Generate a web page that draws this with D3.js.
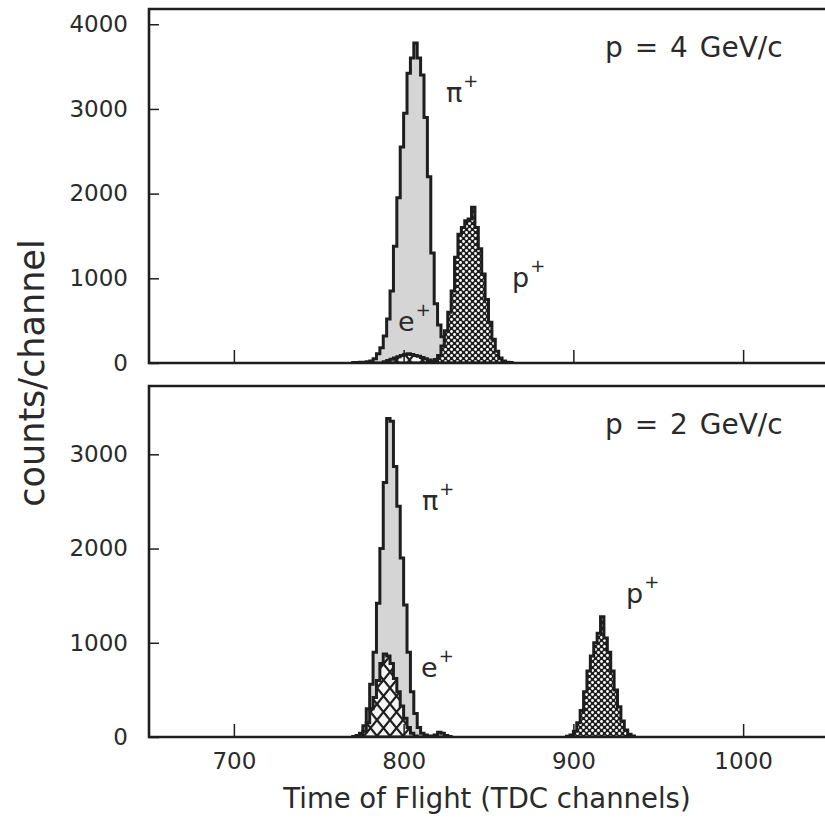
<!DOCTYPE html>
<html>
<head>
<meta charset="utf-8">
<script src="https://cdn.jsdelivr.net/npm/d3@7"></script>
<style>
  body { margin: 0; background: #fff; }
  text { font-family: "DejaVu Sans", sans-serif; fill: #2a2a2a; }
</style>
</head>
<body>
<div id="chart"></div>
<script>
// histogram bins are 2 TDC channels wide
const binWidth = 2

// p = 4 GeV/c
const pion4Start = 770
const pion4Counts = [5, 5, 8, 10, 14, 25, 50, 110, 180, 320, 520, 850, 1380, 1950, 2550, 2950, 3420, 3600, 3780, 3600,
    3400, 2900, 2200, 1300, 700, 450, 310, 240, 190, 150, 110, 90, 60, 40, 30, 20, 15, 10, 6, 4]
const proton4Start = 814
const proton4Counts = [10, 20, 40, 90, 200, 380, 600, 850, 1250, 1520, 1600, 1680, 1700, 1840, 1600, 1350, 1050, 750, 480, 280,
    140, 60, 25, 10, 5]
const positron4Start = 788
const positron4Counts = [15, 30, 45, 60, 75, 90, 100, 110, 100, 90, 80, 65, 50, 35, 20, 10]

// p = 2 GeV/c
const pion2Start = 770
const pion2Counts = [5, 15, 40, 120, 300, 560, 900, 1420, 2000, 2700, 3380, 3350, 2870, 2450, 1900, 1400, 900, 480, 250, 100,
    40, 20, 10, 10, 20, 50, 40, 15, 5]
const proton2Start = 896
const proton2Counts = [8, 20, 60, 150, 280, 480, 700, 860, 1000, 1100, 1275, 1050, 900, 700, 500, 320, 170, 75, 30, 10]
const positron2Start = 774
const positron2Counts = [20, 60, 150, 300, 420, 600, 780, 880, 860, 780, 620, 480, 330, 200, 100, 40, 10]

const xTicks = [700, 800, 900, 1000]
const yTicksTop = [0, 1000, 2000, 3000, 4000]
const yTicksBottom = [0, 1000, 2000, 3000]

const width = 825, height = 821
const ink = '#1e1e1e'

const svg = d3.select('#chart').append('svg')
    .attr('width', width)
    .attr('height', height)

// fill patterns
const defs = svg.append('defs')
const dots = defs.append('pattern')
    .attr('id', 'dots')
    .attr('width', 6).attr('height', 6)
    .attr('patternUnits', 'userSpaceOnUse')
dots.append('rect').attr('width', 6).attr('height', 6).attr('fill', ink)
dots.append('circle').attr('cx', 1.5).attr('cy', 1.5).attr('r', 1.4).attr('fill', '#fff')
dots.append('circle').attr('cx', 4.5).attr('cy', 4.5).attr('r', 1.4).attr('fill', '#fff')

const cross = defs.append('pattern')
    .attr('id', 'cross')
    .attr('width', 13).attr('height', 16)
    .attr('patternUnits', 'userSpaceOnUse')
cross.append('rect').attr('width', 13).attr('height', 16).attr('fill', '#f4f4f4')
cross.append('path')
    .attr('d', 'M-1.3,-1.6L14.3,17.6M14.3,-1.6L-1.3,17.6')
    .attr('stroke', ink)
    .attr('stroke-width', 2.2)

const x = d3.scaleLinear().domain([650, 1050]).range([149, 828])

function toBins(start, counts) {
    const pts = counts.map((v, i) => ({ c: start + i * binWidth, v: v }))
    pts.push({ c: start + counts.length * binWidth, v: 0 })
    return pts
}

const panels = [
    {
        title: 'p = 4 GeV/c', top: 9, bottom: 363, yMax: 4180, yTicks: yTicksTop, showX: false,
        hists: [
            { bins: toBins(pion4Start, pion4Counts), fill: '#d5d5d5' },
            { bins: toBins(proton4Start, proton4Counts), fill: 'url(#dots)' },
            { bins: toBins(positron4Start, positron4Counts), fill: 'url(#cross)' }
        ],
        labels: [
            { t: 'π', sup: '+', x: 446, y: 102 },
            { t: 'p', sup: '+', x: 512, y: 287 },
            { t: 'e', sup: '+', x: 398, y: 331 }
        ]
    },
    {
        title: 'p = 2 GeV/c', top: 386, bottom: 737, yMax: 3725, yTicks: yTicksBottom, showX: true,
        hists: [
            { bins: toBins(pion2Start, pion2Counts), fill: '#d5d5d5' },
            { bins: toBins(proton2Start, proton2Counts), fill: 'url(#dots)' },
            { bins: toBins(positron2Start, positron2Counts), fill: 'url(#cross)' }
        ],
        labels: [
            { t: 'π', sup: '+', x: 422, y: 510 },
            { t: 'e', sup: '+', x: 421, y: 677 },
            { t: 'p', sup: '+', x: 626, y: 603 }
        ]
    }
]

panels.forEach((p, idx) => {
    const y = d3.scaleLinear().domain([0, p.yMax]).range([p.bottom, p.top])
    const g = svg.append('g')

    const clipId = 'clip' + idx
    defs.append('clipPath').attr('id', clipId)
        .append('rect')
        .attr('x', x.range()[0]).attr('y', p.top)
        .attr('width', x.range()[1] - x.range()[0]).attr('height', p.bottom - p.top)

    const area = d3.area()
        .curve(d3.curveStepAfter)
        .x(d => x(d.c))
        .y0(y(0))
        .y1(d => y(d.v))

    const plot = g.append('g').attr('clip-path', `url(#${clipId})`)
    p.hists.forEach(h => {
        plot.append('path')
            .datum(h.bins)
            .attr('d', area)
            .attr('fill', h.fill)
            .attr('stroke', ink)
            .attr('stroke-width', 3)
            .attr('stroke-linejoin', 'miter')
    })

    // y axis, ticks pointing inward
    const yAxis = g.append('g')
        .attr('transform', `translate(${x.range()[0]},0)`)
        .call(d3.axisLeft(y).tickValues(p.yTicks).tickSizeInner(-10).tickSizeOuter(0).tickPadding(21)
            .tickFormat(d3.format('d')))
    yAxis.select('.domain').remove()
    yAxis.selectAll('.tick line').attr('stroke', ink).attr('stroke-width', 1.5)
    yAxis.selectAll('.tick text')
        .attr('font-size', 23)
        .attr('font-family', '"DejaVu Sans", sans-serif')
        .attr('fill', '#2a2a2a')

    // x axis, ticks pointing inward
    const xAxis = g.append('g')
        .attr('transform', `translate(0,${p.bottom})`)
        .call(d3.axisBottom(x).tickValues(xTicks).tickSizeInner(-13).tickSizeOuter(0).tickPadding(16)
            .tickFormat(p.showX ? d3.format('d') : () => ''))
    xAxis.select('.domain').remove()
    xAxis.selectAll('.tick line').attr('stroke', ink).attr('stroke-width', 1.5)
    xAxis.selectAll('.tick text')
        .attr('font-size', 23)
        .attr('font-family', '"DejaVu Sans", sans-serif')
        .attr('fill', '#2a2a2a')

    // frame: left, top, bottom (right side falls outside the page)
    g.append('path')
        .attr('d', `M${width + 5},${p.top}H${x.range()[0]}V${p.bottom}H${width + 5}`)
        .attr('fill', 'none')
        .attr('stroke', ink)
        .attr('stroke-width', 2.6)

    g.append('text')
        .attr('x', 605)
        .attr('y', p.top + 48)
        .attr('font-size', 28)
        .attr('word-spacing', 3)
        .text(p.title)

    p.labels.forEach(l => {
        const t = g.append('text')
            .attr('x', l.x)
            .attr('y', l.y)
            .attr('font-size', 27)
            .text(l.t)
        t.append('tspan')
            .attr('dy', -15)
            .attr('dx', 1)
            .attr('font-size', 18)
            .text(l.sup)
    })
})

svg.append('text')
    .attr('transform', 'translate(44,373) rotate(-90)')
    .attr('text-anchor', 'middle')
    .attr('font-size', 35)
    .text('counts/channel')

svg.append('text')
    .attr('x', 487)
    .attr('y', 808)
    .attr('text-anchor', 'middle')
    .attr('font-size', 27.5)
    .text('Time of Flight (TDC channels)')
</script>
</body>
</html>
